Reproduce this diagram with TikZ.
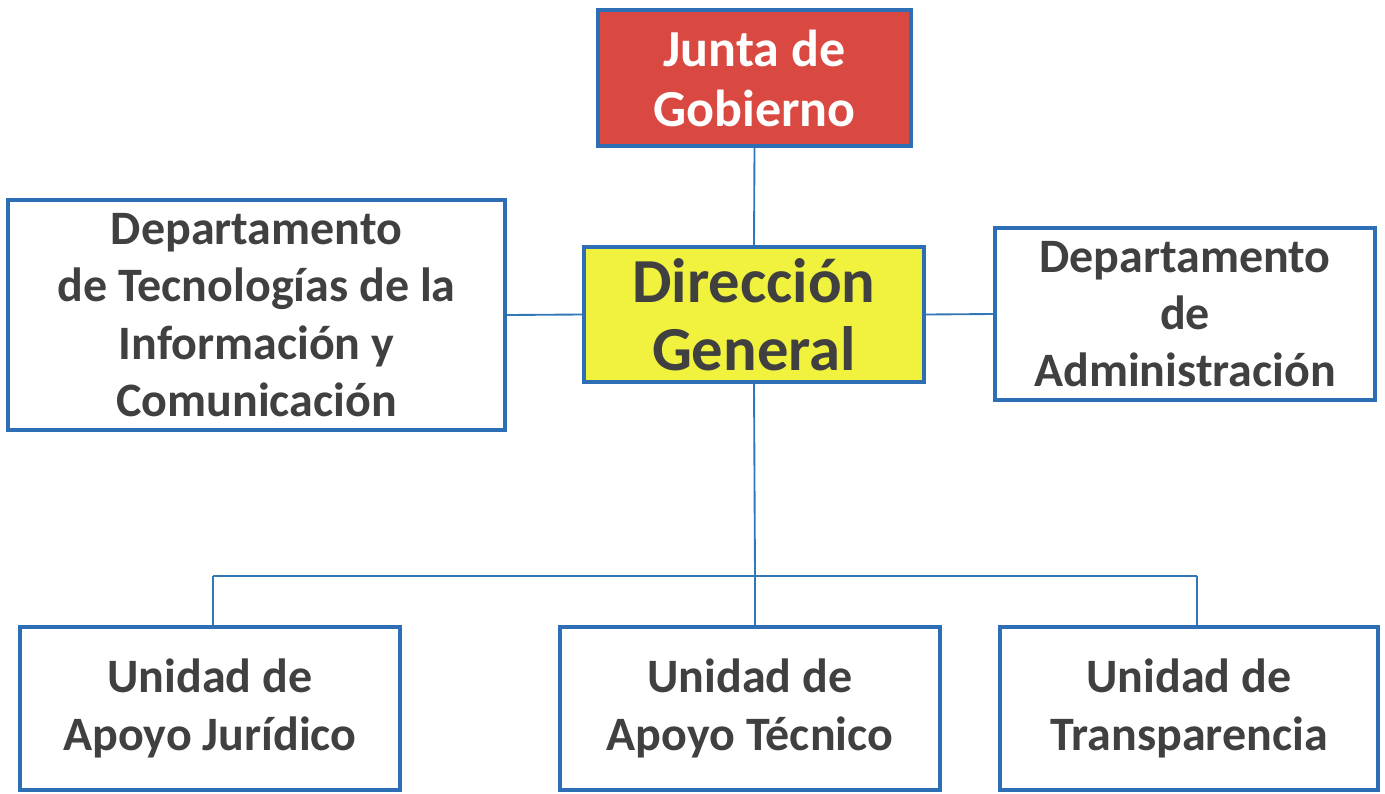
\documentclass[tikz,border=0pt]{standalone}
\usepackage{fontspec}
\setmainfont{Carlito}
\definecolor{bordblue}{RGB}{46,110,180}
\definecolor{linkblue}{RGB}{50,120,180}
\definecolor{juntared}{RGB}{218,72,66}
\definecolor{diryellow}{RGB}{240,242,62}
\definecolor{txtgray}{RGB}{64,64,64}
\tikzset{
  box/.style 2 args={draw=bordblue, line width=3pt, fill=white, align=center,
    inner sep=0pt, minimum width=#1*0.75pt, minimum height=#2*0.75pt,
    text=txtgray, font=\bfseries\fontsize{36}{43}\selectfont},
  link/.style={draw=linkblue, line width=1.4pt}
}
\begin{document}
\begin{tikzpicture}[x=0.75pt,y=-0.75pt]
\useasboundingbox (0,0) rectangle (1385,793);
\node[box={313}{136}, fill=juntared, text=white, font=\bfseries\fontsize{39}{45}\selectfont] (jg) at (754.5,78) {Junta de\\Gobierno};
\node[box={340}{135}, fill=diryellow, font=\bfseries\fontsize{47}{51}\selectfont] (dg) at (754,314.5) {Dirección\\General};
\node[box={497}{230}] (ti) at (256.5,315) {Departamento\\de Tecnologías de la\\Información y\\Comunicación};
\node[box={380}{172}] (da) at (1185,314) {Departamento\\de\\Administración};
\node[box={380}{163}] (uj) at (210,708.5) {Unidad de\\Apoyo Jurídico};
\node[box={380}{163}] (ut) at (750,708.5) {Unidad de\\Apoyo Técnico};
\node[box={378}{163}] (ur) at (1189,708.5) {Unidad de\\Transparencia};
\coordinate (bl) at (213,576);
\coordinate (br) at (1197,576);
\coordinate (bm) at (755,576);
\draw[link] (jg.south) -- (dg.north);
\draw[link] (dg.west) -- (ti.east);
\draw[link] (dg.east) -- (da.west);
\draw[link] (dg.south) -- (bm);
\draw[link] (bl) -- (br);
\draw[link] (bl) -- (bl |- uj.north);
\draw[link] (bm) -- (bm |- ut.north);
\draw[link] (br) -- (br |- ur.north);
\end{tikzpicture}
\end{document}
